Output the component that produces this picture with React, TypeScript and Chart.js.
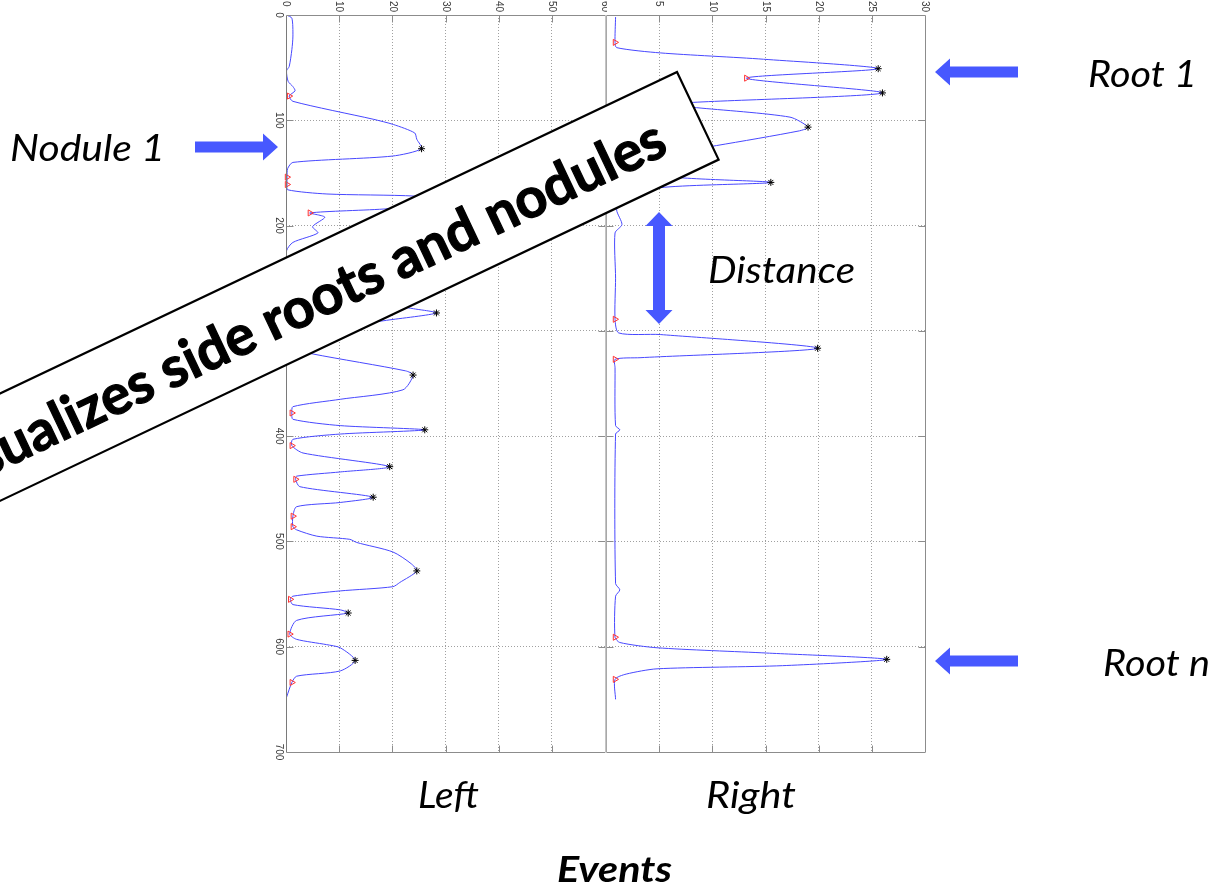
import React, { useEffect, useRef } from "react";
import { Chart, registerables } from "chart.js";

Chart.register(...registerables);

const W = 1211;
const H = 893;

// ---- axis ticks ----
const depthTicks = [0, 100, 200, 300, 400, 500, 600, 700];
const leftXTicks = [0, 10, 20, 30, 40, 50, 60];
const rightXTicks = [0, 5, 10, 15, 20, 25, 30];
const rightXLabels = [5, 10, 15, 20, 25, 30];

// ---- Left profile (depth vs events) ----
const leftDepth = [0, 3, 20, 33, 49, 53, 63, 68, 72, 77, 82, 99, 104, 112, 118, 127, 134, 140, 146, 154, 161, 166, 170, 172, 177, 184, 188, 192, 201, 207, 216, 224, 240, 255, 266, 274, 279, 283, 290, 298, 306, 312, 318, 322, 338, 342, 356, 365, 372, 378, 384, 390, 394, 398, 403, 409, 416, 429, 434, 438, 441, 448, 458, 463, 467, 476, 486, 489, 495, 498, 501, 510, 521, 528, 539, 543, 547, 552, 555, 560, 565, 568, 575, 588, 593, 598, 601, 613, 623, 628, 634, 648];
const leftValue = [0.1, 1.1, 1.3, 1.1, 0.6, 0.1, 0.4, 1.3, 1.7, 0.6, 1.3, 16.4, 20.2, 24.2, 24.6, 25.5, 20, 1.3, 0.3, 0.2, 0.2, 0.3, 7.7, 24.2, 32, 19.2, 4.5, 7.3, 5, 6, 1.3, 0.1, 0.3, 1.5, 8, 18, 24, 28.3, 18.9, 8, 2.5, 1, 2.5, 5.1, 22.5, 23.9, 22, 10.2, 1.3, 1.1, 1.3, 10.2, 26.1, 10.2, 1.3, 1.1, 3.2, 19.5, 10.2, 2, 1.8, 2.6, 16.4, 10.2, 2, 1.3, 1.3, 2, 5.8, 12, 13.3, 20.1, 23.5, 24.6, 21.4, 20.1, 10.2, 1.3, 0.8, 1.3, 10.2, 11.7, 2, 0.7, 2, 7.6, 10.2, 13, 10.2, 2, 1.1, 0.1];
const leftPeaks = [127, 177, 283, 342, 394, 429, 458, 528, 568, 613];
const leftValleys = [77, 154, 161, 188, 312, 378, 409, 441, 476, 486, 555, 588, 634];

// ---- Right profile ----
const rightDepth = [2, 26, 31, 36, 42, 51, 60, 74, 83, 85.5, 88, 97, 106.5, 110, 124, 138, 152.5, 159, 164, 175, 185, 199, 207, 250, 289, 302, 303.5, 316.5, 325.5, 327, 335, 390, 394, 398, 540, 546, 552, 591, 596, 601, 606, 612, 618, 621, 626, 631, 650];
const rightValue = [0.9, 0.85, 1.0, 5.1, 14.8, 25.6, 13.2, 26.0, 8.2, 6, 8.5, 17.3, 19.0, 18.2, 10.4, 2, 4.9, 15.5, 5.1, 1.5, 1.0, 1.5, 0.85, 0.9, 0.85, 1.2, 5.1, 19.9, 3.2, 0.85, 0.85, 0.9, 1.3, 0.9, 0.9, 1.3, 0.9, 0.85, 1.3, 4.8, 15.1, 26.4, 16.6, 4.8, 1.9, 0.85, 0.9];
const rightPeaks = [51, 74, 106.5, 159, 316.5, 612];
const rightValleys = [26, 60, 85.5, 138, 289, 327, 591, 631];

const CURVE = "rgb(72,72,255)";
const ARROW = "#4758FF";
const FRAME = "#8c8c8c";

function valueAt(depth: number[], value: number[], d: number) {
  const i = depth.indexOf(d);
  return value[i];
}

function fitText(ctx: CanvasRenderingContext2D, text: string, x: number, y: number, font: string, width: number | null, sxIn?: number) {
  ctx.font = font;
  const w = ctx.measureText(text).width;
  const sx = width ? width / w : sxIn || 1;
  ctx.save();
  ctx.translate(x, y);
  ctx.scale(sx, 1);
  ctx.fillText(text, 0, 0);
  ctx.restore();
  return sx;
}

function arrowH(ctx: CanvasRenderingContext2D, tail: number, tip: number, cy: number) {
  const dir = Math.sign(tip - tail);
  const headLen = 15, headHalf = 13.5, shaftHalf = 5.5;
  const hb = tip - dir * headLen;
  ctx.beginPath();
  ctx.moveTo(tail, cy - shaftHalf);
  ctx.lineTo(hb, cy - shaftHalf);
  ctx.lineTo(hb, cy - headHalf);
  ctx.lineTo(tip, cy);
  ctx.lineTo(hb, cy + headHalf);
  ctx.lineTo(hb, cy + shaftHalf);
  ctx.lineTo(tail, cy + shaftHalf);
  ctx.closePath();
  ctx.fill();
}

function arrowV2(ctx: CanvasRenderingContext2D, cx: number, top: number, bottom: number) {
  const headLen = 14, headHalf = 13.5, shaftHalf = 6;
  ctx.beginPath();
  ctx.moveTo(cx, top);
  ctx.lineTo(cx + headHalf, top + headLen);
  ctx.lineTo(cx + shaftHalf, top + headLen);
  ctx.lineTo(cx + shaftHalf, bottom - headLen);
  ctx.lineTo(cx + headHalf, bottom - headLen);
  ctx.lineTo(cx, bottom);
  ctx.lineTo(cx - headHalf, bottom - headLen);
  ctx.lineTo(cx - shaftHalf, bottom - headLen);
  ctx.lineTo(cx - shaftHalf, top + headLen);
  ctx.lineTo(cx - headHalf, top + headLen);
  ctx.closePath();
  ctx.fill();
}

function framePlugin(xTicks: number[], xLabels: number[], yLabels: number[] | null, leftEdge: string, rightEdge: string) {
  return {
    id: "frame",
    afterDraw(chart: any) {
      const { ctx, chartArea: a, scales } = chart;
      const xs = scales.x, ys = scales.y;
      const L = Math.round(a.left) + 0.5, R = Math.round(a.right) + 0.5;
      const T = Math.round(a.top) + 0.5, B = Math.round(a.bottom) + 0.5;
      ctx.save();
      ctx.lineWidth = 1;
      // white cover under dividing edges so grid dots do not darken them
      ctx.strokeStyle = FRAME;
      ctx.beginPath();
      xTicks.forEach((t) => {
        const px = Math.round(xs.getPixelForValue(t)) + 0.5;
        if (t === xs.min || t === xs.max) return;
        ctx.moveTo(px, T); ctx.lineTo(px, T + 7);
        ctx.moveTo(px, B); ctx.lineTo(px, B - 7);
      });
      depthTicks.forEach((t) => {
        const py = Math.round(ys.getPixelForValue(t)) + 0.5;
        if (t === 0 || t === 700) return;
        ctx.moveTo(L, py); ctx.lineTo(L + 7, py);
        ctx.moveTo(R, py); ctx.lineTo(R - 7, py);
      });
      // top and bottom edges
      ctx.moveTo(L, T); ctx.lineTo(R, T);
      ctx.moveTo(L, B); ctx.lineTo(R, B);
      ctx.stroke();
      // side edges
      ctx.fillStyle = "#fff";
      ctx.fillRect(L - 0.5, T, 1, B - T);
      ctx.fillRect(R - 0.5, T, 1, B - T);
      ctx.strokeStyle = leftEdge;
      ctx.beginPath(); ctx.moveTo(L, T); ctx.lineTo(L, B); ctx.stroke();
      ctx.strokeStyle = rightEdge;
      ctx.beginPath(); ctx.moveTo(R, T); ctx.lineTo(R, B); ctx.stroke();
      ctx.fillStyle = "#3a3a3a";
      ctx.font = '10px "Liberation Sans", Arial, sans-serif';
      xLabels.forEach((t) => {
        const px = xs.getPixelForValue(t);
        ctx.save();
        ctx.translate(px, 1);
        ctx.rotate(Math.PI / 2);
        ctx.textAlign = "left";
        ctx.textBaseline = "middle";
        ctx.fillText(String(t), 0, 0);
        ctx.restore();
      });
      if (yLabels) {
        yLabels.forEach((t) => {
          const py = ys.getPixelForValue(t);
          ctx.save();
          ctx.translate(a.left - 7, py);
          ctx.rotate(Math.PI / 2);
          ctx.textAlign = "center";
          ctx.textBaseline = "middle";
          ctx.fillText(String(t), 0, 0);
          ctx.restore();
        });
      }
      ctx.restore();
    },
  };
}

const annotationPlugin = {
  id: "annotations",
  beforeDraw(chart: any) {
    const ctx = chart.ctx;
    ctx.save();
    ctx.fillStyle = "#fff";
    ctx.fillRect(607, 0, 330, 14);
    ctx.restore();
  },
  afterDraw(chart: any) {
    const ctx: CanvasRenderingContext2D = chart.ctx;
    ctx.save();
    // arrows
    ctx.fillStyle = ARROW;
    arrowH(ctx, 195, 278, 147);
    arrowH(ctx, 1018, 935, 72);
    arrowH(ctx, 1018, 935, 661);
    arrowV2(ctx, 659, 212, 324);
    // labels
    ctx.fillStyle = "#000";
    ctx.textAlign = "left";
    ctx.textBaseline = "alphabetic";
    const it = 'italic 36px Lato, "Open Sans", sans-serif';
    fitText(ctx, "Nodule 1", 10, 161, it, 155);
    const sRoot = fitText(ctx, "Root 1", 1088, 87, it, 109);
    fitText(ctx, "Root n", 1103, 676, it, null, sRoot);
    fitText(ctx, "Distance", 708, 283, it, 147);
    fitText(ctx, "Left", 418, 808, it, 61);
    fitText(ctx, "Right", 706, 808, it, 90);
    fitText(ctx, "Events", 557, 882, 'italic bold 36px Lato, "Open Sans", sans-serif', 115);
    ctx.restore();

    // banner
    ctx.save();
    ctx.translate(677, 72);
    ctx.rotate((-25.4 * Math.PI) / 180);
    ctx.fillStyle = "#fff";
    ctx.fillRect(-1300, 0, 1300, 97);
    ctx.lineWidth = 2.2;
    ctx.strokeStyle = "#000";
    ctx.strokeRect(-1300, 0, 1300, 97);
    ctx.font = 'bold 56px Lato, "Open Sans", sans-serif';
    const visible = "ualizes side roots and nodules";
    const full = "Visualizes side roots and nodules";
    const sx = 733 / ctx.measureText(visible).width;
    const fw = ctx.measureText(full).width * sx;
    ctx.translate(-41 - fw, 70);
    ctx.scale(sx, 1);
    ctx.fillStyle = "#000";
    ctx.strokeStyle = "#000";
    ctx.lineWidth = 1.2;
    ctx.lineJoin = "round";
    ctx.textAlign = "left";
    ctx.textBaseline = "alphabetic";
    ctx.fillText(full, 0, 0);
    ctx.strokeText(full, 0, 0);
    ctx.restore();
  },
};

function makeConfig(depth: number[], value: number[], peaks: number[], valleys: number[], xMax: number, step: number, padLeft: number, padRight: number, plugins: any[]) {
  const gridOpts = { color: "#a0a0a0", lineWidth: 1, drawTicks: false };
  return {
    type: "scatter",
    data: {
      datasets: [
        {
          data: depth.map((d, i) => ({ x: value[i], y: d })),
          showLine: true,
          borderColor: CURVE,
          borderWidth: 1,
          pointRadius: 0,
          tension: 0.25,
          fill: false,
          order: 2,
        },
        {
          data: peaks.map((d) => ({ x: valueAt(depth, value, d), y: d })),
          showLine: false,
          pointStyle: "star",
          pointRadius: 3.5,
          pointBorderColor: "#000",
          pointBackgroundColor: "#000",
          pointBorderWidth: 1,
          clip: false,
          order: 0,
        },
        {
          data: valleys.map((d) => ({ x: valueAt(depth, value, d), y: d })),
          showLine: false,
          pointStyle: "triangle",
          pointRotation: 90,
          pointRadius: 3.5,
          pointBorderColor: "#ff3333",
          pointBackgroundColor: "rgba(255,255,255,0)",
          pointBorderWidth: 1,
          clip: false,
          order: 0,
        },
      ],
    },
    options: {
      responsive: false,
      animation: false,
      events: [],
      layout: { padding: { left: padLeft, right: padRight, top: 15, bottom: 141 } },
      plugins: { legend: { display: false }, tooltip: { enabled: false } },
      scales: {
        x: {
          type: "linear",
          position: "top",
          min: 0,
          max: xMax,
          ticks: { display: false, stepSize: step },
          grid: gridOpts,
          border: { display: false, dash: [1, 2] },
          afterFit: (s: any) => { s.height = 0; },
        },
        y: {
          type: "linear",
          reverse: true,
          min: 0,
          max: 700,
          ticks: { display: false, stepSize: 100 },
          grid: gridOpts,
          border: { display: false, dash: [1, 2] },
          afterFit: (s: any) => { s.width = 0; },
        },
      },
    },
    plugins,
  };
}

export default function App() {
  const leftRef = useRef<HTMLCanvasElement>(null);
  const rightRef = useRef<HTMLCanvasElement>(null);
  useEffect(() => {
    const c1 = new Chart(
      leftRef.current as HTMLCanvasElement,
      makeConfig(leftDepth, leftValue, leftPeaks, leftValleys, 60, 10, 286, W - 605, [framePlugin(leftXTicks, leftXTicks, depthTicks, "#7a7a7a", "#c4c4c4")]) as any
    );
    const c2 = new Chart(
      rightRef.current as HTMLCanvasElement,
      makeConfig(rightDepth, rightValue, rightPeaks, rightValleys, 30, 5, 606, W - 925, [framePlugin(rightXTicks, rightXLabels, null, "#a8a8a8", "#8c8c8c"), annotationPlugin]) as any
    );
    return () => {
      c1.destroy();
      c2.destroy();
    };
  }, []);
  return (
    <div style={{ position: "fixed", left: 0, top: 0, width: W, height: H, background: "#fff", overflow: "hidden" }}>
      <canvas ref={leftRef} width={W} height={H} style={{ position: "absolute", left: 0, top: 0 }} />
      <canvas ref={rightRef} width={W} height={H} style={{ position: "absolute", left: 0, top: 0 }} />
    </div>
  );
}
